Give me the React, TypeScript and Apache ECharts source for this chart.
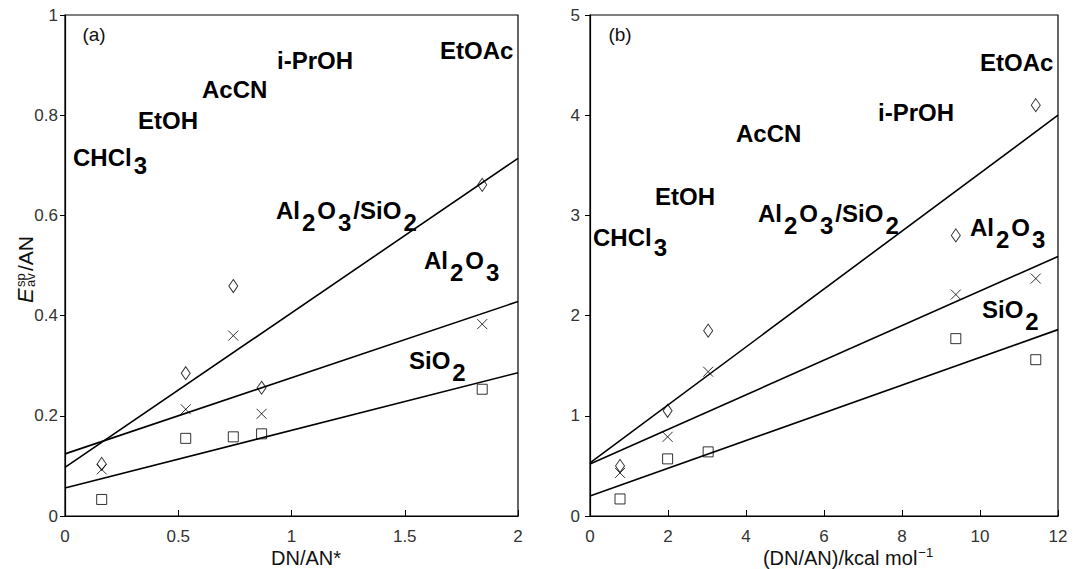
import React, { useEffect, useRef } from "react";
import * as echarts from "echarts";

const FONT = "'Liberation Sans', Arial, Helvetica, sans-serif";

// Panel (a): x = DN/AN*
const xA = [0.162, 0.533, 0.743, 0.868, 1.842];
const aAlSi = [0.104, 0.285, 0.459, 0.256, 0.661];
const aAl = [0.093, 0.213, 0.36, 0.204, 0.383];
const aSi = [0.033, 0.155, 0.158, 0.164, 0.253];
const fitXA = [0, 2];
const fitAAlSi = [0.097, 0.714];
const fitAAl = [0.124, 0.428];
const fitASi = [0.056, 0.286];

// Panel (b): x = (DN/AN)/kcal mol-1
const xB = [0.77, 1.99, 3.03, 9.38, 11.43];
const bAlSi = [0.5, 1.05, 1.85, 2.8, 4.1];
const bAl = [0.43, 0.79, 1.44, 2.21, 2.37];
const bSi = [0.17, 0.57, 0.64, 1.77, 1.56];
const fitXB = [0, 12];
const fitBAlSi = [0.53, 4.0];
const fitBAl = [0.52, 2.59];
const fitBSi = [0.2, 1.86];

const CROSS = "path://M0,0L10,10M10,0L0,10";

const zip = (xs: number[], ys: number[]) => xs.map((x, i) => [x, ys[i]]);

const markerStyle = {
  color: "rgba(0,0,0,0)",
  borderColor: "#000",
  borderWidth: 1,
};

function scatter(xi: number, xs: number[], ys: number[], symbol: string, size: any) {
  return {
    type: "scatter",
    xAxisIndex: xi,
    yAxisIndex: xi,
    data: zip(xs, ys),
    symbol,
    symbolSize: size,
    itemStyle: markerStyle,
    z: 5,
  };
}

function fit(xi: number, xs: number[], ys: number[]) {
  return {
    type: "line",
    xAxisIndex: xi,
    yAxisIndex: xi,
    data: zip(xs, ys),
    showSymbol: false,
    symbol: "none",
    lineStyle: { color: "#000", width: 1.6 },
    z: 3,
  };
}

const richLabel = (p: number) => ({
  n: { fontSize: 24, fontWeight: "bold", fontFamily: FONT, fill: "#000", color: "#000" },
  s: {
    fontSize: 24,
    fontWeight: "bold",
    fontFamily: FONT,
    fill: "#000",
    color: "#000",
    padding: [p, 2, 0, 2],
  },
});

function label(text: string, x: number, y: number, p = 24) {
  return {
    type: "text",
    x,
    y,
    z: 10,
    style: {
      text,
      fontSize: 24,
      fontWeight: "bold",
      fontFamily: FONT,
      fill: "#000",
      textAlign: "left",
      textVerticalAlign: "middle",
      verticalAlign: "middle",
      rich: richLabel(p),
    },
  };
}

function plain(text: string, x: number, y: number, size: number, align = "center") {
  return {
    type: "text",
    x,
    y,
    z: 10,
    style: {
      text,
      fontSize: size,
      fontFamily: FONT,
      fill: "#111",
      textAlign: align,
      textVerticalAlign: "middle",
      verticalAlign: "middle",
    },
  };
}

const axisCommon = {
  axisLine: { show: true, lineStyle: { color: "#000", width: 1.2 } },
  splitLine: { show: false },
};

export default function App() {
  const ref = useRef<HTMLDivElement>(null);
  useEffect(() => {
    if (!ref.current) return;
    const chart = echarts.init(ref.current, undefined, { renderer: "svg" });
    const tickLabel = { fontSize: 17, color: "#333", fontFamily: FONT };
    chart.setOption({
      animation: false,
      grid: [
        { left: 65, top: 15, width: 453, height: 501, show: true, borderColor: "#000", borderWidth: 1.2, containLabel: false },
        { left: 590, top: 15, width: 468, height: 501, show: true, borderColor: "#000", borderWidth: 1.2, containLabel: false },
      ],
      xAxis: [
        {
          type: "value", gridIndex: 0, min: 0, max: 2, interval: 0.5,
          ...axisCommon,
          axisTick: { show: true, inside: true, length: 6, lineStyle: { color: "#000" } },
          axisLabel: { ...tickLabel, margin: 12 },
        },
        {
          type: "value", gridIndex: 1, min: 0, max: 12, interval: 2,
          ...axisCommon,
          axisTick: { show: true, inside: true, length: 6, lineStyle: { color: "#000" } },
          axisLabel: { ...tickLabel, margin: 12 },
        },
      ],
      yAxis: [
        {
          type: "value", gridIndex: 0, min: 0, max: 1, interval: 0.2,
          ...axisCommon,
          axisTick: { show: true, inside: false, length: 5, lineStyle: { color: "#000" } },
          axisLabel: { ...tickLabel, margin: 7 },
        },
        {
          type: "value", gridIndex: 1, min: 0, max: 5, interval: 1,
          ...axisCommon,
          axisTick: { show: true, inside: false, length: 5, lineStyle: { color: "#000" } },
          axisLabel: { ...tickLabel, margin: 10 },
        },
      ],
      series: [
        fit(0, fitXA, fitAAlSi),
        fit(0, fitXA, fitAAl),
        fit(0, fitXA, fitASi),
        scatter(0, xA, aAlSi, "diamond", [9, 13]),
        scatter(0, xA, aAl, CROSS, 10),
        scatter(0, xA, aSi, "rect", 10),
        fit(1, fitXB, fitBAlSi),
        fit(1, fitXB, fitBAl),
        fit(1, fitXB, fitBSi),
        scatter(1, xB, bAlSi, "diamond", [9, 13]),
        scatter(1, xB, bAl, CROSS, 10),
        scatter(1, xB, bSi, "rect", 10),
      ],
      graphic: [
        plain("(a)", 94, 34, 19),
        plain("(b)", 620, 34, 19),
        label("EtOAc", 440, 50),
        label("i-PrOH", 277, 60),
        label("AcCN", 202, 89),
        label("EtOH", 138, 120),
        label("CHCl{s|3}", 73, 157, 16),
        label("Al{s|2}O{s|3}/SiO{s|2}", 276, 210),
        label("Al{s|2}O{s|3}", 424, 260),
        label("SiO{s|2}", 409, 360),
        label("EtOAc", 980, 62),
        label("i-PrOH", 878, 112),
        label("AcCN", 736, 133),
        label("EtOH", 655, 196),
        label("CHCl{s|3}", 593, 237, 20),
        label("Al{s|2}O{s|3}/SiO{s|2}", 758, 213),
        label("Al{s|2}O{s|3}", 970, 227),
        label("SiO{s|2}", 982, 309),
        plain("DN/AN*", 306, 558, 20),
        {
          type: "text",
          x: 848,
          y: 558,
          z: 10,
          style: {
            text: "(DN/AN)/kcal mol{sup|−1}",
            fontSize: 20,
            fontFamily: FONT,
            fill: "#111",
            textAlign: "center",
            textVerticalAlign: "middle",
            verticalAlign: "middle",
            rich: {
              sup: { fontSize: 13, fontFamily: FONT, fill: "#111", color: "#111", padding: [0, 0, 12, 1] },
            },
          },
        },
        {
          type: "group",
          x: 25,
          y: 266,
          rotation: Math.PI / 2,
          children: [
            { type: "text", x: -37, y: 0, style: { text: "E", fontSize: 22, fontStyle: "italic", fontFamily: FONT, fill: "#111", textAlign: "left", textVerticalAlign: "middle", verticalAlign: "middle" } },
            { type: "text", x: -21, y: -5, style: { text: "sp", fontSize: 13, fontFamily: FONT, fill: "#111", textAlign: "left", textVerticalAlign: "middle", verticalAlign: "middle" } },
            { type: "text", x: -21, y: 5, style: { text: "av", fontSize: 13, fontFamily: FONT, fill: "#111", textAlign: "left", textVerticalAlign: "middle", verticalAlign: "middle" } },
            { type: "text", x: -5, y: 0, style: { text: "/AN", fontSize: 21, fontFamily: FONT, fill: "#111", textAlign: "left", textVerticalAlign: "middle", verticalAlign: "middle" } },
          ],
        },
      ],
    });
    return () => chart.dispose();
  }, []);
  return (
    <div
      ref={ref}
      style={{ position: "absolute", left: 0, top: 0, width: 1091, height: 569, background: "#fff" }}
    />
  );
}
